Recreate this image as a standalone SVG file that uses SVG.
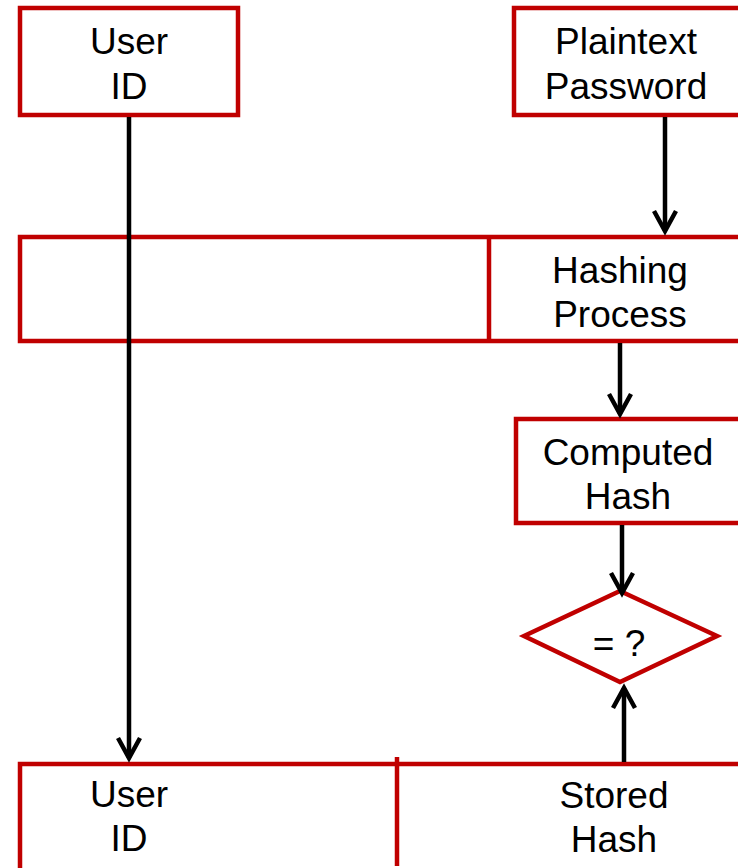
<svg xmlns="http://www.w3.org/2000/svg" width="738" height="868" viewBox="0 0 738 868">
<style>
.box{fill:#fff;stroke:#C00000;stroke-width:4.5}
.div{fill:none;stroke:#C00000;stroke-width:4.5}
.lbl{font-family:"Liberation Sans",Arial,sans-serif;font-size:37px;fill:#000;text-anchor:middle}
.con{fill:none;stroke:#000;stroke-width:4.5}
.head{fill:none;stroke:#000;stroke-width:4.5;stroke-linejoin:miter}
</style>
<rect width="738" height="868" fill="#fff"/>
<g id="node-userid-top">
<rect class="box" x="20" y="8" width="218" height="107"/>
<text class="lbl" x="129" y="54">User</text>
<text class="lbl" x="129" y="99">ID</text>
</g>
<g id="node-plaintext">
<rect class="box" x="514" y="8" width="240" height="107"/>
<text class="lbl" x="626" y="54">Plaintext</text>
<text class="lbl" x="626" y="99">Password</text>
</g>
<g id="node-hashing">
<rect class="box" x="20" y="237" width="740" height="104"/>
<line class="div" x1="489" y1="237" x2="489" y2="341"/>
<text class="lbl" x="620" y="283">Hashing</text>
<text class="lbl" x="620" y="327">Process</text>
</g>
<g id="node-computed">
<rect class="box" x="516" y="419" width="240" height="104"/>
<text class="lbl" x="628" y="465">Computed</text>
<text class="lbl" x="628" y="509">Hash</text>
</g>
<g id="node-compare">
<polygon class="box" points="620,591 717,636 620,682 524,636"/>
<text class="lbl" x="619" y="656">= ?</text>
</g>
<g id="node-store">
<rect class="box" x="20" y="764" width="740" height="120"/>
<line class="div" x1="397" y1="757" x2="397" y2="866"/>
<text class="lbl" x="129" y="807">User</text>
<text class="lbl" x="129" y="851">ID</text>
<text class="lbl" x="614" y="808">Stored</text>
<text class="lbl" x="614" y="852">Hash</text>
</g>
<g id="connectors">
<line class="con" x1="129" y1="117" x2="129" y2="758"/>
<polyline class="head" points="118,738 129,758 140,738"/>
<line class="con" x1="665" y1="117" x2="665" y2="231"/>
<polyline class="head" points="654,211 665,231 676,211"/>
<line class="con" x1="620" y1="343" x2="620" y2="414"/>
<polyline class="head" points="609,394 620,414 631,394"/>
<line class="con" x1="622" y1="525" x2="622" y2="593"/>
<polyline class="head" points="611,573 622,593 633,573"/>
<line class="con" x1="624" y1="762" x2="624" y2="688"/>
<polyline class="head" points="613,708 624,688 635,708"/>
</g>
</svg>
